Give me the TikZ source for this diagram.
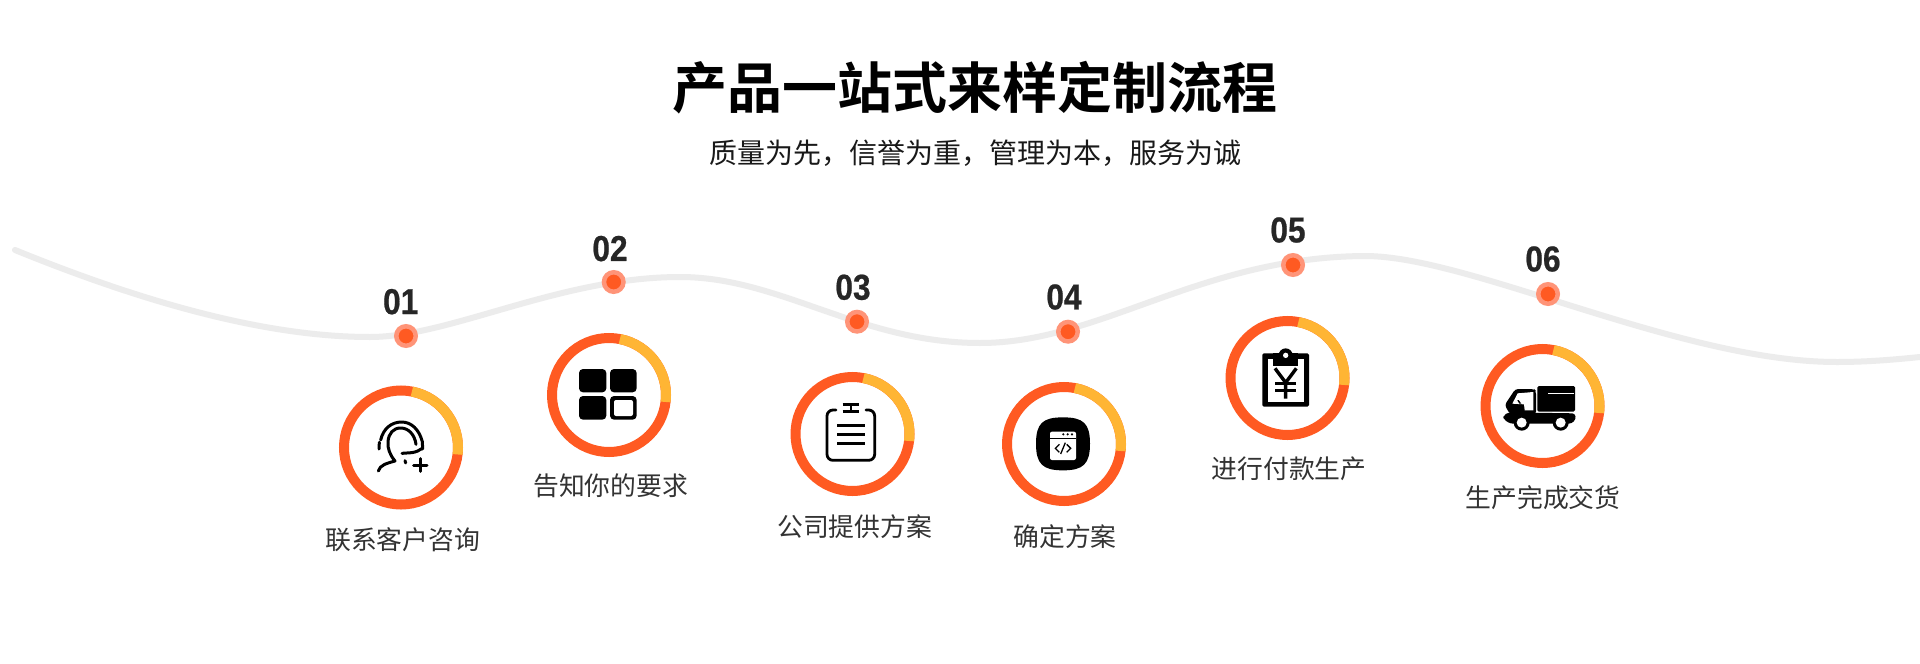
\documentclass[tikz,border=0pt]{standalone}
\usepackage{fontspec}
\setmainfont{Noto Sans CJK SC}
\newfontfamily\cjkbold{Noto Sans CJK SC Bold}
\newfontfamily\numfont[FakeStretch=0.88,FakeBold=0.6]{Liberation Sans Bold}
\definecolor{ringred}{HTML}{FF5A22}
\definecolor{ringyel}{HTML}{FFB534}
\definecolor{halo}{HTML}{FF9478}
\definecolor{wave}{HTML}{ECECEC}
\definecolor{txt}{HTML}{333333}
\definecolor{num}{HTML}{262626}
\tikzset{
 titletext/.style={inner sep=0,text=black,font=\cjkbold\fontsize{55}{66}\selectfont},
 subtext/.style={inner sep=0,text=black!90,font=\fontsize{28}{34}\selectfont},
 labeltext/.style={inner sep=0,text=txt,font=\fontsize{25.8}{30}\selectfont},
 numtext/.style={inner sep=0,text=num,font=\numfont\fontsize{36}{42}\selectfont},
 dotmark/.style={circle,inner sep=0,minimum size=19.5pt,fill=ringred,draw=halo,line width=4.5pt},
 waveline/.style={draw=wave,line width=6pt,line cap=round},
 ringbase/.style={draw=ringred,line width=10pt},
 ringtop/.style={draw=ringyel,line width=10pt},
 iconstroke/.style={draw=black,line width=3pt,line cap=round,line join=round},
 iconthin/.style={draw=black,line width=2.8pt,line cap=butt},
 zoomframe/.style={x=0.33333pt,y=-0.33333pt}
}
\newcommand{\ringat}[2]{%
 \draw[ringbase] (#1,#2) circle[radius=57];
 \draw[ringtop] (#1,#2) ++(79:57 and -57) arc[start angle=-79,end angle=7,radius=57];
}
\begin{document}
\begin{tikzpicture}[x=1pt,y=-1pt]
\useasboundingbox (0,0) rectangle (1920,664);
\fill[white] (0,0) rectangle (1920,664);
\coordinate (w0) at (15,250);
\coordinate (w1) at (370,337);
\coordinate (w2) at (680,277);
\coordinate (w3) at (980,343);
\coordinate (w4) at (1365,256);
\coordinate (w5) at (1837,362);
\coordinate (w6) at (1920,357);
\draw[waveline] (w0) .. controls (150,305) and (270,337) .. (w1)
 .. controls (450,337) and (560,277) .. (w2)
 .. controls (780,277) and (860,343) .. (w3)
 .. controls (1100,343) and (1200,257) .. (w4)
 .. controls (1470,256) and (1680,362) .. (w5)
 .. controls (1870,362) and (1900,359) .. (w6);

\node[titletext] (title) at (975,88) {产品一站式来样定制流程};
\node[subtext] (sub) at (975,153) {质量为先，信誉为重，管理为本，服务为诚};

\node[dotmark] (d1) at (406,336) {};
\node[dotmark] (d2) at (613.7,282) {};
\node[dotmark] (d3) at (857,321.7) {};
\node[dotmark] (d4) at (1068,331.7) {};
\node[dotmark] (d5) at (1293,265) {};
\node[dotmark] (d6) at (1548,294) {};

\node[numtext] (n1) at (400.7,301.7) {01};
\node[numtext] (n2) at (610,248.6) {02};
\node[numtext] (n3) at (853,287.3) {03};
\node[numtext] (n4) at (1064,297) {04};
\node[numtext] (n5) at (1288,230) {05};
\node[numtext] (n6) at (1543,259) {06};

\ringat{401}{447.5}
\ringat{609}{395}
\ringat{852.5}{434}
\ringat{1064}{444}
\ringat{1287.5}{378}
\ringat{1542.5}{406}

\node[labeltext] (l1) at (402.7,540) {联系客户咨询};
\node[labeltext] (l2) at (610.7,486) {告知你的要求};
\node[labeltext] (l3) at (854.7,526.7) {公司提供方案};
\node[labeltext] (l4) at (1065,536.7) {确定方案};
\node[labeltext] (l5) at (1289,469) {进行付款生产};
\node[labeltext] (l6) at (1543,498) {生产完成交货};

% icon 1: headset person
\begin{scope}[shift={(340,385)},zoomframe]
\draw[iconstroke] (118,172)--(117,192);
\draw[iconstroke] (122,165) .. controls (130,130) and (155,111) .. (185,111) .. controls (215,111) and (238,135) .. (247,170)--(248,192);
\draw[iconstroke] (115,258) .. controls (120,240) and (140,235) .. (165,228) .. controls (150,210) and (142,190) .. (144,170) .. controls (146,145) and (160,129) .. (182,129) .. controls (205,129) and (224,148) .. (228,178);
\draw[iconstroke] (186,205) -- (215,203) .. controls (228,201) and (238,197) .. (245,191);
\draw[iconstroke] (195,227)--(197,234);
\draw[iconstroke] (221,240)--(261,240) (241,221)--(241,259);
\end{scope}

% icon 2: tiles
\begin{scope}[shift={(310,270)},zoomframe]
\fill[black,rounded corners=4pt] (807,297) rectangle (889,367);
\fill[black,rounded corners=4pt] (900,297) rectangle (980,367);
\fill[black,rounded corners=4pt] (807,378) rectangle (889,449);
\fill[black,rounded corners=4pt] (900,378) rectangle (980,449);
\fill[white,rounded corners=2pt] (912,390) rectangle (969,438);
\end{scope}

% icon 3: clipboard
\begin{scope}[shift={(790,370)},zoomframe]
\draw[iconthin,line cap=round,rounded corners=6pt] (138,120) -- (111,120) -- (111,271) -- (254,271) -- (254,120) -- (228,120);
\draw[iconthin] (158,104)--(208,104) (158,125)--(208,125) (183,104)--(183,125);
\draw[iconthin] (142,167)--(225,167) (142,194)--(225,194) (142,221)--(225,221);
\end{scope}

% icon 4: code window
\begin{scope}[shift={(1000,380)},zoomframe]
\fill[black] (189,112) .. controls (250,112) and (270,130) .. (270,191) .. controls (270,252) and (250,271) .. (189,271) .. controls (128,271) and (108,252) .. (108,191) .. controls (108,130) and (128,112) .. (189,112) -- cycle;
\fill[white,rounded corners=2pt] (150,155) rectangle (228,240);
\draw[black,line width=1pt] (150,174)--(228,174);
\fill[black] (190,163) circle[radius=3.6] (203,163) circle[radius=3.6] (216,163) circle[radius=3.6];
\draw[black,line width=1.3pt] (178,193)--(166,205)--(178,217) (200,193)--(212,205)--(200,217) (196,188)--(182,222);
\end{scope}

% icon 5: yen clipboard
\begin{scope}[shift={(1225,320)},zoomframe]
\fill[black,rounded corners=1.5pt] (112,100) rectangle (252,260);
\fill[white] (128,118) rectangle (236,245);
\fill[black] (145,100) rectangle (220,138);
\fill[black] (182,106) circle[radius=21];
\fill[white] (182,106) circle[radius=8];
\draw[black,line width=3.4pt] (150,145)--(182,188)--(214,145) (182,188)--(182,236);
\draw[black,line width=2.8pt] (150,190)--(214,190) (150,212)--(214,212);
\end{scope}

% icon 6: truck
\begin{scope}[shift={(1480,345)},zoomframe]
\fill[black,rounded corners=1.5pt] (172,123) rectangle (285,200);
\draw[white,line width=1pt] (205,145)--(282,145);
\fill[black,rounded corners=3pt] (106,132) -- (162,132) -- (168,138) -- (168,208) -- (90,208) -- (74,180) -- cycle;
\fill[white] (113,145) -- (160,141) -- (160,196) -- (134,196) -- (132,178) -- (97,176) -- cycle;
\fill[black] (118,176) -- (112,166) -- (116,165) -- (124,176) -- cycle;
\fill[black,rounded corners=3pt] (70,212) -- (85,202) -- (285,205) -- (288,222) -- (275,236) -- (90,236) -- (70,222) -- cycle;
\fill[black] (125,233) circle[radius=24] (242,233) circle[radius=24];
\fill[white] (125,233) circle[radius=15] (242,233) circle[radius=15];
\end{scope}
\end{tikzpicture}
\end{document}
